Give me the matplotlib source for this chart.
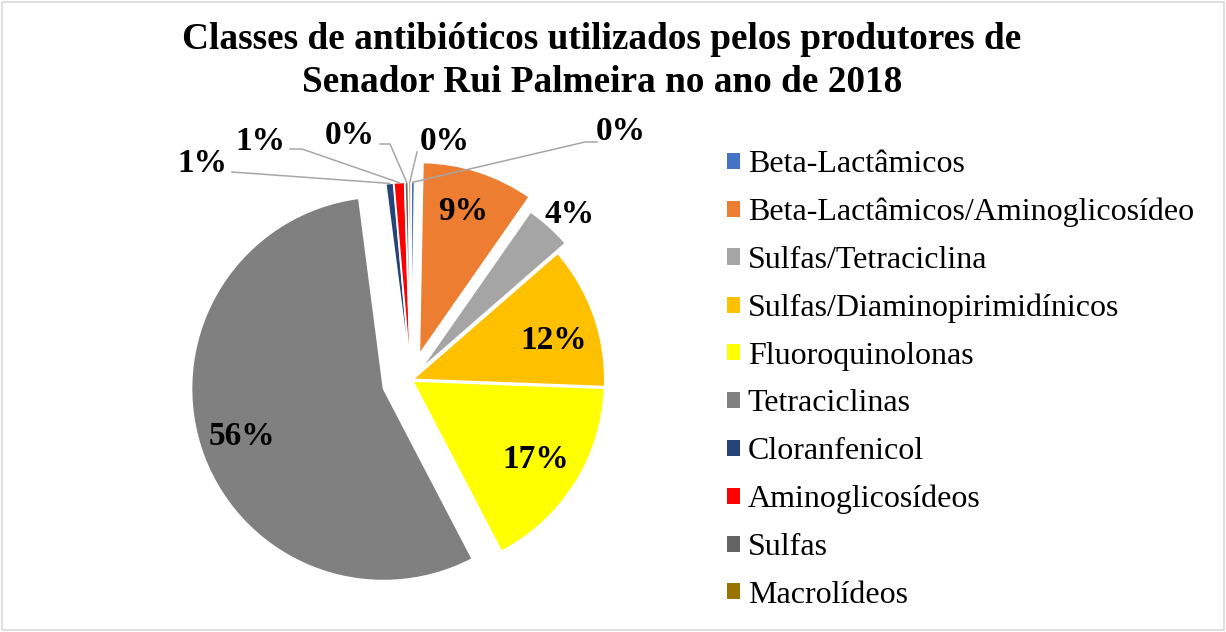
import numpy as np
import matplotlib
matplotlib.use("Agg")
import matplotlib.pyplot as plt
from matplotlib.patches import Patch, Rectangle

plt.rcParams['font.family'] = ['Liberation Serif', 'DejaVu Serif']

# Data (percent of producers)
classes = ["Beta-Lactâmicos", "Beta-Lactâmicos/Aminoglicosídeo", "Sulfas/Tetraciclina",
           "Sulfas/Diaminopirimidínicos", "Fluoroquinolonas", "Tetraciclinas",
           "Cloranfenicol", "Aminoglicosídeos", "Sulfas", "Macrolídeos"]
values = [0.3, 9.4, 3.9, 12.0, 16.75, 55.6, 0.65, 0.9, 0.3, 0.2]

# Styling
colors = ["#4472C4", "#ED7D31", "#A5A5A5", "#FFC000", "#FFFF00",
          "#808080", "#264478", "#FF0000", "#636363", "#997300"]
R = 192
explode_frac = [0.03, 0.14, 0.075, 0.01, 0.01, 0.15, 0.03, 0.03, 0.03, 0.03]
label_frac = [None, 0.78, 1.12, 0.76, 0.76, 0.78, None, None, None, None]
label_rot = [0, 1, -2, -4, 0, 1, 0, 0, 0, 0]  # degrees
# small slices: label centre, leader start, leader elbow (pixel-ish axes units)
small_labels = {0: ((621, 501), (597, 490), (585, 490)),
                6: ((202, 468), (232, 460), (232, 460)),
                7: ((260, 491), (290, 483), (302, 483)),
                8: ((350, 496), (380, 488), (390, 488)),
                9: ((445, 491), (417, 480), (417, 480))}

W, H = 1226, 632
fig = plt.figure(figsize=(W / 100, H / 100), dpi=100)
ax = fig.add_axes([0, 0, 1, 1])

wedges, _ = ax.pie(values, colors=colors, explode=[e * R for e in explode_frac],
                   startangle=90, counterclock=False, radius=R, center=(411, 252),
                   wedgeprops=dict(edgecolor="white", linewidth=1.2))
ax.set_xlim(0, W)
ax.set_ylim(0, H)
ax.set_aspect("equal")
ax.axis("off")

for i, w in enumerate(wedges):
    mid = np.deg2rad((w.theta1 + w.theta2) / 2)
    cx, cy = w.center
    pct = f"{round(values[i]):d}%"
    if label_frac[i] is not None:
        f = label_frac[i] * w.r
        a = mid + np.deg2rad(label_rot[i])
        ax.text(cx + f * np.cos(a), cy + f * np.sin(a), pct,
                ha="center", va="center", fontsize=24, fontweight="bold")
    else:
        (tx, ty), start, elbow = small_labels[i]
        tip = (cx + w.r * np.cos(mid), cy + w.r * np.sin(mid))
        ax.plot([start[0], elbow[0], tip[0]], [start[1], elbow[1], tip[1]],
                color="#A6A6A6", lw=1.1)
        ax.text(tx, ty, pct, ha="center", va="center", fontsize=24, fontweight="bold")

ax.text(602, H - 22, "Classes de antibióticos utilizados pelos produtores de\nSenador Rui Palmeira no ano de 2018",
        ha="center", va="top", fontsize=26.8, fontweight="bold", linespacing=1.3)

handles = [Patch(facecolor=c, edgecolor="none") for c in colors]
ax.legend(handles, classes, loc="upper left", bbox_to_anchor=(727, H - 150),
          bbox_transform=ax.transData, frameon=False, fontsize=23,
          handlelength=0.4, handleheight=0.4, handletextpad=0.25,
          labelspacing=0.585, borderpad=0, borderaxespad=0)

fig.add_artist(Rectangle((0.002, 0.003), 0.996, 0.994, transform=fig.transFigure,
                         fill=False, edgecolor="#D9D9D9", lw=1.2))

fig.savefig("out.png", dpi=100)
